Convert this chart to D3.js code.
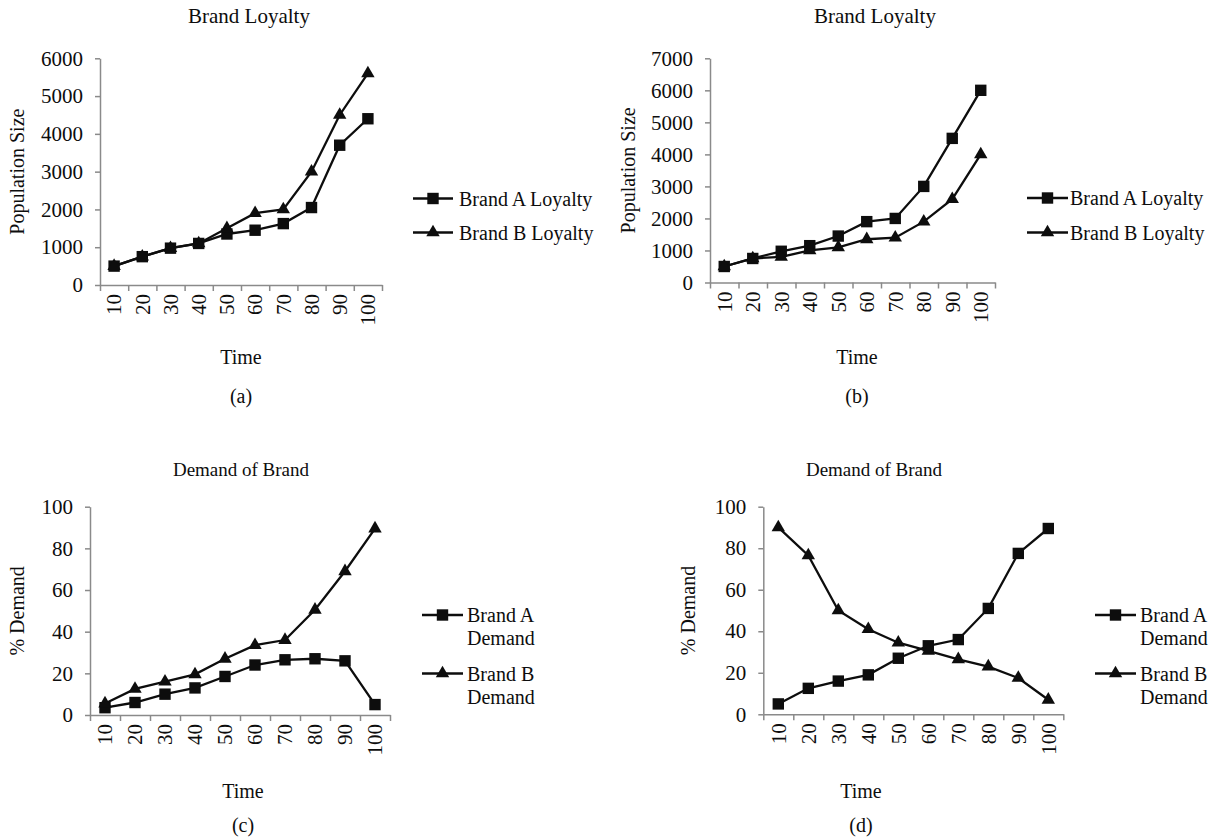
<!DOCTYPE html>
<html>
<head>
<meta charset="utf-8">
<script src="https://cdn.jsdelivr.net/npm/d3@7"></script>
<style>
  html, body { margin: 0; padding: 0; background: #fff; overflow: hidden; }
  svg text { font-family: "Liberation Serif", "Times New Roman", "DejaVu Serif", serif !important; }
</style>
</head>
<body>
<svg id="chart" width="1218" height="837"></svg>
<script>
// Time steps shared by all four panels
const timeLabels = ["10", "20", "30", "40", "50", "60", "70", "80", "90", "100"];

// (a) Brand loyalty, first scenario
const loyaltyA1 = [500, 750, 975, 1100, 1350, 1450, 1625, 2050, 3700, 4400];
const loyaltyB1 = [500, 750, 975, 1100, 1500, 1900, 2000, 3000, 4500, 5600];
// (b) Brand loyalty, second scenario
const loyaltyA2 = [500, 750, 975, 1150, 1450, 1900, 2000, 3000, 4500, 6000];
const loyaltyB2 = [500, 750, 800, 1000, 1100, 1350, 1400, 1900, 2600, 4000];
// (c) Demand share, first scenario
const demandA1 = [3.5, 6, 10, 13, 18.5, 24, 26.5, 27, 26, 5];
const demandB1 = [5.5, 12.5, 16, 19.5, 27, 33.5, 36, 50.5, 69, 89.5];
// (d) Demand share, second scenario
const demandA2 = [5, 12.5, 16, 19, 27, 33, 36, 51, 77.5, 89.5];
const demandB2 = [90, 76.5, 50, 41, 34.5, 30.5, 26.5, 23, 17.5, 7];

// Y tick values
const loyaltyTicks1 = [0, 1000, 2000, 3000, 4000, 5000, 6000];
const loyaltyTicks2 = [0, 1000, 2000, 3000, 4000, 5000, 6000, 7000];
const demandTicks = [0, 20, 40, 60, 80, 100];

// Text
const loyaltyTitle = "Brand Loyalty";
const demandTitle = "Demand of Brand";
const loyaltyYLabel = "Population Size";
const demandYLabel = "% Demand";
const xLabel = "Time";
const loyaltyLegend = [["Brand A Loyalty"], ["Brand B Loyalty"]];
const demandLegend = [["Brand A", "Demand"], ["Brand B", "Demand"]];

const svg = d3.select("#chart");
const FONT = 20;
const TICK_FONT = 21;
const AXIS_GREY = "#8a8a8a";
const INK = "#0d0d0d";

// Everything is drawn inside the figure frame, which ends just short of the right edge
svg.append("defs").append("clipPath").attr("id", "frame")
  .append("rect").attr("x", 0).attr("y", 0).attr("width", 1210).attr("height", 837);
const root = svg.append("g").attr("clip-path", "url(#frame)");

const panels = [
  { seriesA: loyaltyA1, seriesB: loyaltyB1, ticks: loyaltyTicks1,
    title: loyaltyTitle, titleSize: 21, yLabel: loyaltyYLabel, legend: loyaltyLegend, tag: "(a)",
    left: 100, right: 382, top: 58.3, bottom: 285,
    titleX: 249, titleY: 23, yLabelX: 24, timeX: 241, timeY: 364, tagY: 403,
    legLine: [413, 453], legText: 459, legY: [198.5, 232.5] },
  { seriesA: loyaltyA2, seriesB: loyaltyB2, ticks: loyaltyTicks2,
    title: loyaltyTitle, titleSize: 21, yLabel: loyaltyYLabel, legend: loyaltyLegend, tag: "(b)",
    left: 710, right: 995, top: 58.3, bottom: 282.5,
    titleX: 875, titleY: 23, yLabelX: 635, timeX: 857, timeY: 364, tagY: 403,
    legLine: [1027, 1068], legText: 1070, legY: [198, 232.5] },
  { seriesA: demandA1, seriesB: demandB1, ticks: demandTicks,
    title: demandTitle, titleSize: 19, yLabel: demandYLabel, legend: demandLegend, tag: "(c)",
    left: 90, right: 390, top: 506.7, bottom: 715,
    titleX: 241, titleY: 476, yLabelX: 24, timeX: 243, timeY: 798, tagY: 832,
    legLine: [422, 463], legText: 467, legY: [615, 673.5] },
  { seriesA: demandA2, seriesB: demandB2, ticks: demandTicks,
    title: demandTitle, titleSize: 19, yLabel: demandYLabel, legend: demandLegend, tag: "(d)",
    left: 763.3, right: 1063.3, top: 506.7, bottom: 714.3,
    titleX: 874, titleY: 476, yLabelX: 695, timeX: 861, timeY: 798, tagY: 832,
    legLine: [1095, 1136], legText: 1140, legY: [615, 673.5] }
];

const squareSym = d3.symbol().type(d3.symbolSquare).size(130);
const triangleSym = d3.symbol().type(d3.symbolTriangle).size(78);

function drawPanel(p) {
  const g = root.append("g");
  const x = d3.scaleBand().domain(timeLabels).range([p.left, p.right]);
  const y = d3.scaleLinear().domain([0, d3.max(p.ticks)]).range([p.bottom, p.top]);
  const cx = d => x(d) + x.bandwidth() / 2;

  // Y axis
  const yAxis = g.append("g")
    .attr("transform", `translate(${p.left},0)`)
    .call(d3.axisLeft(y).tickValues(p.ticks).tickFormat(d3.format("d"))
      .tickSize(5).tickPadding(12).tickSizeOuter(0));
  yAxis.select(".domain").attr("stroke", AXIS_GREY).attr("stroke-width", 1.5);
  yAxis.selectAll(".tick line").attr("stroke", AXIS_GREY).attr("stroke-width", 1.5);
  yAxis.selectAll(".tick text").attr("font-size", TICK_FONT).attr("fill", INK);

  // X axis: tick marks at band boundaries, labels centred in bands
  const bounds = d3.scaleLinear().domain([0, timeLabels.length]).range([p.left, p.right]);
  const xTicks = g.append("g")
    .attr("transform", `translate(0,${p.bottom})`)
    .call(d3.axisBottom(bounds).tickValues(d3.range(timeLabels.length + 1))
      .tickSize(6).tickSizeOuter(0).tickFormat(""));
  xTicks.select(".domain").attr("stroke", AXIS_GREY).attr("stroke-width", 1.5);
  xTicks.selectAll(".tick line").attr("stroke", AXIS_GREY).attr("stroke-width", 1.5);

  const xLabels = g.append("g")
    .attr("transform", `translate(0,${p.bottom})`)
    .call(d3.axisBottom(x).tickSize(0).tickPadding(0));
  xLabels.select(".domain").remove();
  xLabels.selectAll(".tick text")
    .attr("font-size", TICK_FONT).attr("fill", INK)
    .attr("text-anchor", "end")
    .attr("transform", "translate(0,9) rotate(-90)")
    .attr("x", 0).attr("y", 0).attr("dy", "0.35em");

  // Lines and markers
  const line = d3.line().x((d, i) => cx(timeLabels[i])).y(d => y(d));
  [[p.seriesA, squareSym], [p.seriesB, triangleSym]].forEach(([vals, sym]) => {
    g.append("path").datum(vals).attr("d", line)
      .attr("fill", "none").attr("stroke", INK).attr("stroke-width", 2.3);
    g.selectAll(null).data(vals).enter().append("path")
      .attr("d", sym)
      .attr("transform", (d, i) => `translate(${cx(timeLabels[i])},${y(d)})`)
      .attr("fill", INK);
  });

  // Titles
  g.append("text").attr("x", p.titleX).attr("y", p.titleY)
    .attr("text-anchor", "middle").attr("font-size", p.titleSize).attr("fill", INK).text(p.title);
  g.append("text")
    .attr("transform", `translate(${p.yLabelX},${(p.top + p.bottom) / 2}) rotate(-90)`)
    .attr("text-anchor", "middle").attr("font-size", FONT).attr("fill", INK).text(p.yLabel);
  g.append("text").attr("x", p.timeX).attr("y", p.timeY)
    .attr("text-anchor", "middle").attr("font-size", FONT).attr("fill", INK).text(xLabel);
  g.append("text").attr("x", p.timeX).attr("y", p.tagY)
    .attr("text-anchor", "middle").attr("font-size", FONT).attr("fill", INK).text(p.tag);

  // Legend
  const syms = [squareSym, triangleSym];
  p.legend.forEach((lines, k) => {
    const ly = p.legY[k];
    g.append("line").attr("x1", p.legLine[0]).attr("x2", p.legLine[1])
      .attr("y1", ly).attr("y2", ly).attr("stroke", INK).attr("stroke-width", 2.3);
    g.append("path").attr("d", syms[k])
      .attr("transform", `translate(${(p.legLine[0] + p.legLine[1]) / 2},${ly})`)
      .attr("fill", INK);
    const t = g.append("text").attr("x", p.legText).attr("y", ly)
      .attr("font-size", FONT).attr("fill", INK);
    lines.forEach((s, j) => {
      t.append("tspan").attr("x", p.legText)
        .attr("dy", j === 0 ? "0.35em" : "1.15em").text(s);
    });
  });
}

panels.forEach(drawPanel);
</script>
</body>
</html>
